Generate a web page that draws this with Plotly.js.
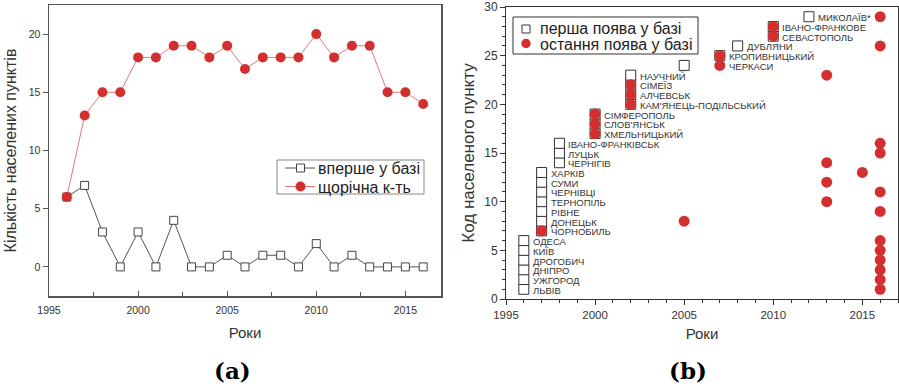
<!DOCTYPE html>
<html>
<head>
<meta charset="utf-8">
<script src="https://cdn.plot.ly/plotly-3.0.1.min.js"></script>
<style>html,body{margin:0;padding:0;background:#fff;}#chart{width:899px;height:387px;}</style>
</head>
<body>
<div id="chart"></div>
<script>
// ---- Panel (a) data ----
const years = [1996,1997,1998,1999,2000,2001,2002,2003,2004,2005,2006,2007,2008,2009,2010,2011,2012,2013,2014,2015,2016];
const firstCount = [6,7,3,0,3,0,4,0,0,1,0,1,1,0,2,0,1,0,0,0,0];
const annualCount = [6,13,15,15,18,18,19,19,18,19,17,18,18,18,20,18,19,19,15,15,14];
const seriesNamesA = ['вперше у базі', 'щорічна к-ть'];

// ---- Panel (b) data ----
const placeNames = ['ЛЬВІВ','УЖГОРОД','ДНІПРО','ДРОГОБИЧ','КИЇВ','ОДЕСА','ЧОРНОБИЛЬ','ДОНЕЦЬК','РІВНЕ','ТЕРНОПІЛЬ','ЧЕРНІВЦІ','СУМИ','ХАРКІВ','ЧЕРНІГІВ','ЛУЦЬК','ІВАНО-ФРАНКІВСЬК','ХМЕЛЬНИЦЬКИЙ',"СЛОВ'ЯНСЬК",'СІМФЕРОПОЛЬ',"КАМ'ЯНЕЦЬ-ПОДІЛЬСЬКИЙ",'АЛЧЕВСЬК','СІМЕЇЗ','НАУЧНИЙ','ЧЕРКАСИ','КРОПИВНИЦЬКИЙ','ДУБЛЯНИ','СЕВАСТОПОЛЬ','ІВАНО-ФРАНКОВЕ','МИКОЛАЇВ*'];
const placeCodes = [1,2,3,4,5,6,7,8,9,10,11,12,13,14,15,16,17,18,19,20,21,22,23,24,25,26,27,28,29];
const firstYear = [1996,1996,1996,1996,1996,1996,1997,1997,1997,1997,1997,1997,1997,1998,1998,1998,2000,2000,2000,2002,2002,2002,2002,2005,2007,2008,2010,2010,2012];
const lastYear = [2016,2016,2016,2016,2016,2016,1997,2005,2016,2013,2016,2013,2015,2013,2016,2016,2000,2000,2000,2002,2002,2002,2013,2007,2007,2016,2010,2010,2016];
const labelYear = [1996,1996,1996,1996,1996,1996,1997,1997,1997,1997,1997,1997,1997,1998,1998,1998,2000,2000,2000,2002,2002,2002,2002,2007,2007,2008,2010,2010,2012];
const seriesNamesB = ['перша поява у базі', 'остання поява у базі'];

const RED = '#d42f2f';
const SANS = 'Arial';
const tickFont = {family: SANS, size: 10.5, color: '#333'};
const W = 899, H = 387;
const px = v => v / W, py = v => (H - v) / H;

const traces = [
  {x: years, y: firstCount, type: 'scatter', mode: 'lines+markers', name: seriesNamesA[0],
   xaxis: 'x', yaxis: 'y', showlegend: false,
   line: {color: '#555', width: 1},
   marker: {symbol: 'square', size: 8, color: '#fff', line: {color: '#444', width: 1}}},
  {x: years, y: annualCount, type: 'scatter', mode: 'lines+markers', name: seriesNamesA[1],
   xaxis: 'x', yaxis: 'y', showlegend: false,
   line: {color: '#e07a7a', width: 1},
   marker: {symbol: 'circle', size: 10, color: RED}},
  {x: firstYear, y: placeCodes, type: 'scatter', mode: 'markers', name: seriesNamesB[0],
   xaxis: 'x2', yaxis: 'y2', showlegend: false,
   marker: {symbol: 'square', size: 10, color: '#fff', line: {color: '#333', width: 1}}},
  {x: lastYear, y: placeCodes, type: 'scatter', mode: 'markers', name: seriesNamesB[1],
   xaxis: 'x2', yaxis: 'y2', showlegend: false,
   marker: {symbol: 'circle', size: 11, color: RED}}
];

const annotations = placeNames.map((n, i) => ({
  x: labelYear[i], y: placeCodes[i], xref: 'x2', yref: 'y2', text: n, showarrow: false,
  xanchor: 'left', yanchor: 'middle', xshift: 8, yshift: -1, borderpad: 0,
  font: {family: SANS, size: 9.5, color: '#333'}
}));
// panel labels
annotations.push(
  {x: px(232), y: py(370), xref: 'paper', yref: 'paper', text: '<b>(a)</b>', showarrow: false,
   xanchor: 'center', yanchor: 'middle', font: {family: 'DejaVu Serif, serif', size: 23, color: '#000'}},
  {x: px(688), y: py(370), xref: 'paper', yref: 'paper', text: '<b>(b)</b>', showarrow: false,
   xanchor: 'center', yanchor: 'middle', font: {family: 'DejaVu Serif, serif', size: 23, color: '#000'}}
);

// ---- legend boxes (drawn in paper space) ----
const shapes = [];
function rectPx(x0, y0, x1, y1, line, fill) {
  shapes.push({type: 'rect', xref: 'paper', yref: 'paper', x0: px(x0), x1: px(x1), y0: py(y1), y1: py(y0),
    line: line, fillcolor: fill, layer: 'above'});
}
function circlePx(cx, cy, r, color) {
  shapes.push({type: 'circle', xref: 'paper', yref: 'paper', x0: px(cx - r), x1: px(cx + r), y0: py(cy + r), y1: py(cy - r),
    line: {width: 0}, fillcolor: color, layer: 'above'});
}
function linePx(x0, y0, x1, y1, color) {
  shapes.push({type: 'line', xref: 'paper', yref: 'paper', x0: px(x0), x1: px(x1), y0: py(y0), y1: py(y1),
    line: {color: color, width: 1}, layer: 'above'});
}
function legendText(x, y, t, size) {
  annotations.push({x: px(x), y: py(y), xref: 'paper', yref: 'paper', text: t, showarrow: false,
    xanchor: 'left', yanchor: 'middle', borderpad: 0, font: {family: SANS, size: size, color: '#222'}});
}
// legend (a)
rectPx(277, 160, 424, 194, {color: '#888', width: 1}, '#fff');
linePx(285, 168, 315, 168, '#555');
rectPx(296.5, 164, 304.5, 172, {color: '#444', width: 1}, '#fff');
linePx(285, 186.5, 315, 186.5, '#e07a7a');
circlePx(300.5, 186.5, 5, RED);
legendText(317, 168, seriesNamesA[0], 16);
legendText(317, 187, seriesNamesA[1], 16);
// legend (b)
rectPx(513, 17, 698, 54, {color: '#333', width: 1}, '#fff');
rectPx(522, 25, 530, 33, {color: '#333', width: 1}, '#fff');
circlePx(526, 43.5, 4.7, RED);
legendText(539, 29, seriesNamesB[0], 16);
legendText(539, 44, seriesNamesB[1], 16);

const layout = {
  width: W, height: H,
  margin: {l: 0, r: 0, t: 0, b: 0},
  paper_bgcolor: '#fff', plot_bgcolor: '#fff',
  showlegend: false,
  xaxis: {domain: [49/W, 441/W], range: [1995, 2017], tickvals: [1995,2000,2005,2010,2015],
    ticks: 'inside', ticklen: 5, tickcolor: '#555', showgrid: false, zeroline: false,
    minor: {dtick: 2.5, tick0: 1995, ticks: 'inside', ticklen: 4, tickcolor: '#555'},
    showline: true, mirror: true, linecolor: '#555', linewidth: 1.5, tickfont: tickFont,
    ticklabelstandoff: 4,
    title: {text: 'Роки', font: {family: SANS, size: 15, color: '#333'}, standoff: 12},
    anchor: 'y'},
  yaxis: {domain: [(H-296)/H, (H-5)/H], range: [-2.5, 22.5], tickvals: [0,5,10,15,20],
    ticks: 'outside', ticklen: 5, tickcolor: '#555', showgrid: false, zeroline: false,
    showline: true, mirror: true, linecolor: '#555', linewidth: 1.5, tickfont: tickFont,
    title: {text: 'Кількість населених пунктів', font: {family: SANS, size: 16, color: '#333'}, standoff: 8},
    anchor: 'x'},
  xaxis2: {domain: [506/W, 898/W], range: [1995, 2017], tickvals: [1995,2000,2005,2010,2015],
    ticks: 'outside', ticklen: 5, tickcolor: '#333', showgrid: false, zeroline: false,
    minor: {dtick: 1, tick0: 1995, ticks: 'outside', ticklen: 3, tickcolor: '#333'},
    showline: true, mirror: true, linecolor: '#333', linewidth: 1,
    tickfont: {family: SANS, size: 11.5, color: '#333'},
    title: {text: 'Роки', font: {family: SANS, size: 15, color: '#333'}, standoff: 8},
    anchor: 'y2'},
  yaxis2: {domain: [(H-299)/H, (H-7)/H], range: [0, 30], tickvals: [0,5,10,15,20,25,30],
    ticks: 'outside', ticklen: 5, tickcolor: '#333', showgrid: false, zeroline: false,
    minor: {dtick: 1, tick0: 0, ticks: 'outside', ticklen: 3, tickcolor: '#333'},
    showline: true, mirror: true, linecolor: '#333', linewidth: 1,
    tickfont: {family: SANS, size: 12, color: '#333'},
    title: {text: 'Код населеного пункту', font: {family: SANS, size: 17, color: '#333'}, standoff: 5},
    anchor: 'x2'},
  shapes: shapes,
  annotations: annotations
};

Plotly.newPlot('chart', traces, layout, {staticPlot: true, displayModeBar: false});
</script>
</body>
</html>
